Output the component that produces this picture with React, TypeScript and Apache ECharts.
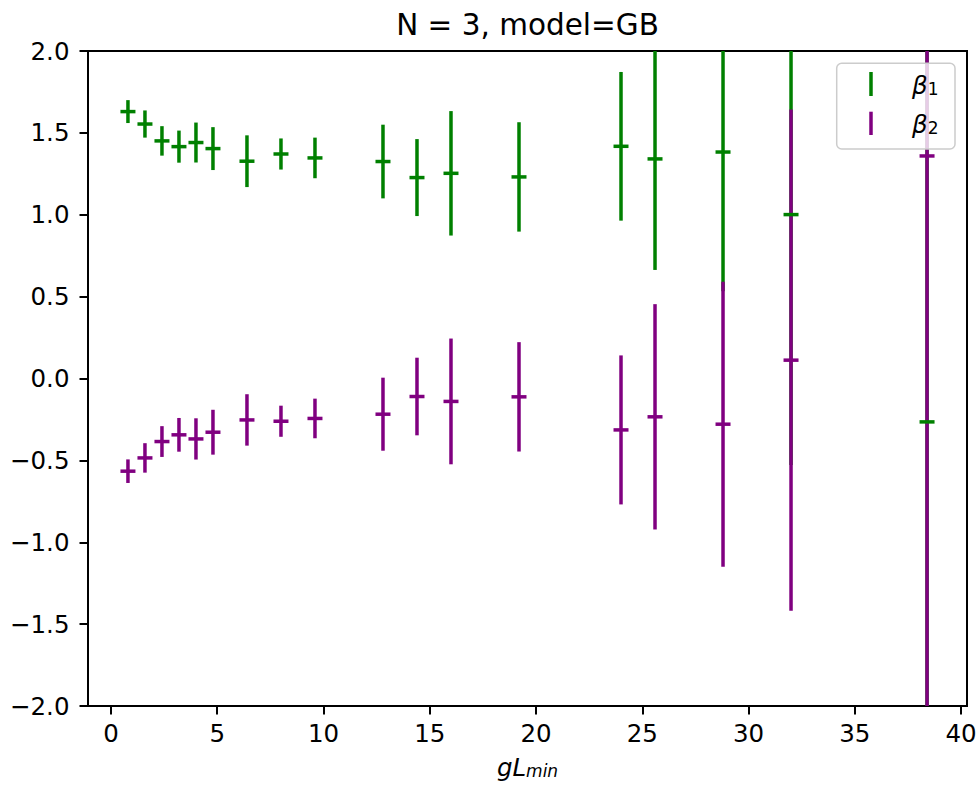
import React, { useEffect, useRef } from "react";
import * as echarts from "echarts";

const xValues = [0.8, 1.6, 2.4, 3.2, 4.0, 4.8, 6.4, 8.0, 9.6, 12.8, 14.4, 16.0, 19.2, 24.0, 25.6, 28.8, 32.0, 38.4];
const beta1 = [1.630, 1.554, 1.451, 1.416, 1.441, 1.404, 1.327, 1.371, 1.347, 1.325, 1.227, 1.253, 1.231, 1.418, 1.341, 1.383, 1.001, -0.265];
const beta1Err = [0.070, 0.083, 0.090, 0.098, 0.122, 0.131, 0.158, 0.095, 0.124, 0.225, 0.235, 0.380, 0.334, 0.454, 0.678, 0.850, 1.530, 3.000];
const beta2 = [-0.566, -0.485, -0.385, -0.344, -0.369, -0.328, -0.253, -0.261, -0.244, -0.218, -0.110, -0.140, -0.112, -0.314, -0.234, -0.279, 0.112, 1.359];
const beta2Err = [0.072, 0.090, 0.094, 0.103, 0.126, 0.137, 0.157, 0.095, 0.121, 0.223, 0.237, 0.384, 0.334, 0.455, 0.688, 0.870, 1.530, 3.600];
const xTicks = [0, 5, 10, 15, 20, 25, 30, 35, 40];
const yTicks = [-2, -1.5, -1, -0.5, 0, 0.5, 1, 1.5, 2];

const GREEN = "#008000";
const PURPLE = "#800080";
const FONT = "DejaVu Sans";
const TICK_FS = 24.5;
const SUB_FS = 17;

function makeBars(color: string) {
  return (params: any, api: any) => {
    const x = api.value(0), y = api.value(1), e = api.value(2);
    const p1 = api.coord([x, y + e]);
    const p2 = api.coord([x, y - e]);
    const cs = params.coordSys;
    const top = Math.max(p1[1], cs.y);
    const bot = Math.min(p2[1], cs.y + cs.height);
    if (bot <= top) return null;
    return {
      type: "line",
      shape: { x1: p1[0], y1: top, x2: p1[0], y2: bot },
      style: { stroke: color, lineWidth: 3.5, lineCap: "butt" },
    };
  };
}

function makeCaps(color: string) {
  return (params: any, api: any) => {
    const x = api.value(0), y = api.value(1);
    const p = api.coord([x, y]);
    const cs = params.coordSys;
    if (p[1] < cs.y || p[1] > cs.y + cs.height) return null;
    return {
      type: "line",
      shape: { x1: p[0] - 7.5, y1: p[1], x2: p[0] + 7.5, y2: p[1] },
      style: { stroke: color, lineWidth: 3.5, lineCap: "butt" },
    };
  };
}

function legendText(sub: string, y: number) {
  return {
    type: "text",
    z: 101,
    x: 912,
    y,
    style: {
      text: "{a|\u03b2}{b|" + sub + "}",
      verticalAlign: "middle",
      rich: {
        a: { fontFamily: FONT, fontSize: TICK_FS, fontStyle: "italic", fill: "#000", lineHeight: 24 },
        b: { fontFamily: FONT, fontSize: SUB_FS, fill: "#000", lineHeight: 9, verticalAlign: "bottom" },
      },
    },
    silent: true,
  };
}

export default function App() {
  const ref = useRef<HTMLDivElement>(null);
  useEffect(() => {
    if (!ref.current) return;
    const chart = echarts.init(ref.current, null, { renderer: "svg" });
    const d1 = xValues.map((x, i) => [x, beta1[i], beta1Err[i]]);
    const d2 = xValues.map((x, i) => [x, beta2[i], beta2Err[i]]);
    const fmt = (v: number) => v.toFixed(1).replace("-", "\u2212");
    chart.setOption({
      animation: false,
      backgroundColor: "#ffffff",
      title: {
        text: "N = 3, model=GB",
        left: 527.5,
        top: 10,
        padding: 0,
        textAlign: "center",
        textStyle: { fontFamily: FONT, fontSize: 29.5, fontWeight: "normal", color: "#000" },
      },
      grid: {
        left: 88,
        right: 13,
        top: 51,
        bottom: 80,
        show: true,
        borderColor: "#000",
        borderWidth: 2,
        backgroundColor: "transparent",
      },
      xAxis: {
        type: "value",
        min: -1.08,
        max: 40.28,
        axisLine: { show: false, onZero: false },
        splitLine: { show: false },
        axisTick: { show: true, customValues: xTicks, length: 8.5, lineStyle: { color: "#000", width: 2 } },
        axisLabel: {
          customValues: xTicks,
          fontFamily: FONT,
          fontSize: TICK_FS,
          color: "#000",
          margin: 15,
        },
        name: "{a|gL}{b|min}",
        nameLocation: "middle",
        nameGap: 49,
        nameTextStyle: {
          rich: {
            a: { fontFamily: FONT, fontSize: TICK_FS, fontStyle: "italic", color: "#000", lineHeight: 24 },
            b: { fontFamily: FONT, fontSize: SUB_FS, fontStyle: "italic", color: "#000", lineHeight: 9, verticalAlign: "bottom" },
          },
        },
      },
      yAxis: {
        type: "value",
        min: -2,
        max: 2,
        interval: 0.5,
        axisLine: { show: false, onZero: false },
        splitLine: { show: false },
        axisTick: { show: true, customValues: yTicks, length: 8.5, lineStyle: { color: "#000", width: 2 } },
        axisLabel: {
          customValues: yTicks,
          formatter: fmt,
          fontFamily: FONT,
          fontSize: TICK_FS,
          color: "#000",
          margin: 18.5,
        },
      },
      series: [
        { type: "custom", name: "\u03b21", data: d1, encode: { x: 0, y: 1 }, renderItem: makeBars(GREEN), z: 2, silent: true },
        { type: "custom", name: "\u03b22", data: d2, encode: { x: 0, y: 1 }, renderItem: makeBars(PURPLE), z: 2, silent: true },
        { type: "custom", name: "\u03b21", data: d1, encode: { x: 0, y: 1 }, renderItem: makeCaps(GREEN), z: 3, silent: true },
        { type: "custom", name: "\u03b22", data: d2, encode: { x: 0, y: 1 }, renderItem: makeCaps(PURPLE), z: 3, silent: true },
      ],
      graphic: [
        {
          type: "rect",
          z: 100,
          shape: { x: 836.7, y: 63.3, width: 118.3, height: 85.7, r: 5 },
          style: { fill: "rgba(255,255,255,0.8)", stroke: "#cccccc", lineWidth: 1.5 },
          silent: true,
        },
        {
          type: "line",
          z: 101,
          shape: { x1: 871, y1: 72, x2: 871, y2: 96 },
          style: { stroke: GREEN, lineWidth: 3.5 },
          silent: true,
        },
        {
          type: "line",
          z: 101,
          shape: { x1: 871, y1: 111.7, x2: 871, y2: 135 },
          style: { stroke: PURPLE, lineWidth: 3.5 },
          silent: true,
        },
        legendText("1", 85),
        legendText("2", 124.5),
      ],
    });
    return () => chart.dispose();
  }, []);
  return <div ref={ref} style={{ position: "fixed", left: 0, top: 0, width: 980, height: 786 }} />;
}
